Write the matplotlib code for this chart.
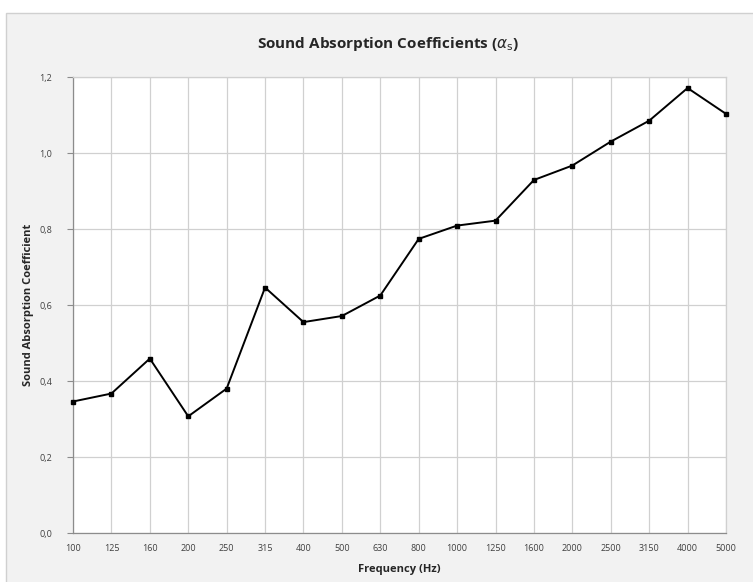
import matplotlib.pyplot as plt
from matplotlib.patches import Rectangle

frequencies = ["100", "125", "160", "200", "250", "315", "400", "500", "630",
               "800", "1000", "1250", "1600", "2000", "2500", "3150", "4000", "5000"]
alpha_s = [0.346, 0.367, 0.459, 0.307, 0.380, 0.646, 0.555, 0.571, 0.625,
           0.774, 0.809, 0.822, 0.929, 0.967, 1.030, 1.085, 1.171, 1.103]
y_ticks = [0.0, 0.2, 0.4, 0.6, 0.8, 1.0, 1.2]
y_tick_labels = ["0,0", "0,2", "0,4", "0,6", "0,8", "1,0", "1,2"]

plt.rcParams["font.family"] = ["Open Sans", "DejaVu Sans"]

fig = plt.figure(figsize=(7.53, 5.82), dpi=100)
fig.patch.set_facecolor("white")

# chart area background with thin border, kept behind the axes
bg = Rectangle((6 / 753, -0.1), 1.2, 1 - 13 / 582 + 0.1,
               transform=fig.transFigure, facecolor="#f2f2f2",
               edgecolor="#d0d0d0", linewidth=1, zorder=-10)
fig.add_artist(bg)

ax = fig.add_axes([73 / 753, 1 - 533 / 582, 653 / 753, 456 / 582])
ax.set_zorder(1)
ax.set_facecolor("white")

x = list(range(len(frequencies)))
ax.plot(x, alpha_s, color="black", linewidth=1.4, marker="s", markersize=3.5,
        zorder=3, clip_on=False)

ax.set_xlim(0, len(frequencies) - 1)
ax.set_ylim(0, 1.2)
ax.set_xticks(x)
ax.set_xticklabels(frequencies)
ax.set_yticks(y_ticks)
ax.set_yticklabels(y_tick_labels)

ax.grid(True, color="#d0d0d0", linewidth=0.9)
ax.set_axisbelow(True)

for side in ["top", "right"]:
    ax.spines[side].set_color("#d0d0d0")
    ax.spines[side].set_linewidth(0.9)
for side in ["left", "bottom"]:
    ax.spines[side].set_color("#8c8c8c")
    ax.spines[side].set_linewidth(0.9)

ax.tick_params(axis="y", length=4, color="#8c8c8c", labelsize=6.5,
               labelcolor="#404040", pad=11)
ax.tick_params(axis="x", length=0, labelsize=6.5, labelcolor="#404040", pad=8)

ax.set_xlabel("Frequency (Hz)", fontsize=8, fontweight="bold",
              color="#262626", labelpad=8)
ax.set_ylabel("Sound Absorption Coefficient", fontsize=8, fontweight="bold",
              color="#262626", labelpad=4)

fig.text(388 / 753, 1 - 44 / 582, r"Sound Absorption Coefficients ($\alpha_\mathrm{s}$)",
         ha="center", va="center", fontsize=11, fontweight="bold",
         color="#262626")

fig.savefig("out.png", dpi=100, facecolor=fig.get_facecolor())
